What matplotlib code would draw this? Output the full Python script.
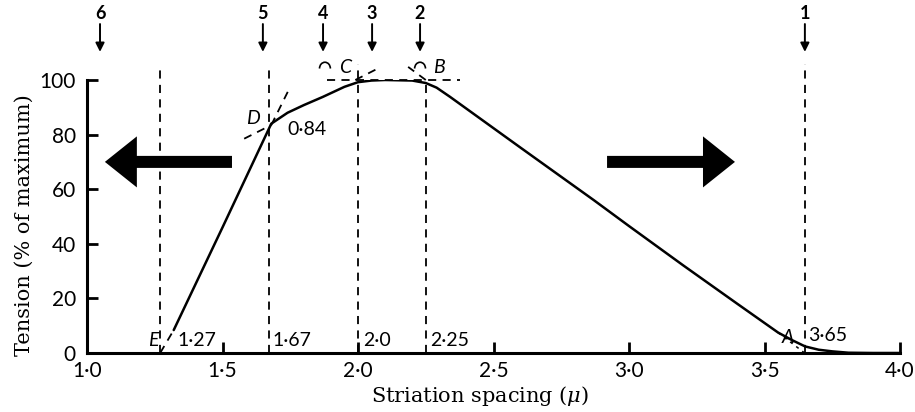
import matplotlib
matplotlib.use("Agg")
import matplotlib.pyplot as plt
from matplotlib.patches import Arc, FancyArrow

plt.rcParams['mathtext.fontset'] = 'dejavuserif'
plt.rcParams['font.family'] = ['Lato', 'DejaVu Sans']

# length-tension curve
spacing = [1.32, 1.50, 1.68, 1.74, 1.80, 1.87, 1.95, 2.00, 2.05, 2.10, 2.20,
           2.25, 2.29, 2.34, 2.60, 2.87, 3.00, 3.20, 3.40, 3.50, 3.55, 3.60, 3.65,
           3.70, 3.75, 3.81, 3.90, 4.00]
tension = [8.4, 46, 84, 88, 90.8, 93.8, 97.5, 99.2, 99.8, 100, 99.8,
           98.9, 97.2, 93.8, 75.2, 56, 46.5, 32.1, 18, 11, 7.5, 4.8, 2.4,
           1.2, 0.6, 0.1, 0, 0]

# dashed verticals: (x, top)
vlines_x = [1.27, 1.67, 2.0, 2.25, 3.65]
vlines_top = [105.5, 105.5, 106, 99, 106]
vlabels = ["1·27", "1·67", "2·0", "2·25", "3·65"]
vlabel_x = [1.335, 1.686, 2.02, 2.266, 3.66]
vlabel_y = [4.5, 4.5, 4.5, 4.5, 6.5]

# numbered arrows along the top
top_num = ["6", "5", "4", "3", "2", "1"]
top_x = [1.048, 1.649, 1.871, 2.052, 2.229, 3.649]

# lettered points
letters = ["E", "D", "C", "B", "A"]
letter_x = [1.245, 1.613, 1.952, 2.30, 3.585]
letter_y = [4.5, 86, 104.4, 104.4, 5.5]

xticks = [1.0, 1.5, 2.0, 2.5, 3.0, 3.5, 4.0]
xticklabels = ["1·0", "1·5", "2·0", "2·5", "3·0", "3·5", "4·0"]
yticks = [0, 20, 40, 60, 80, 100]

fig = plt.figure(figsize=(9.15, 4.12), dpi=100)
ax = fig.add_axes([87 / 915, 59 / 412, 813 / 915, 273 / 412])
ax.set_xlim(1.0, 4.0)
ax.set_ylim(0, 100)

ax.plot(spacing, tension, color="black", lw=1.8, solid_capstyle="round", zorder=3)

dash = dict(color="black", lw=1.3, dashes=(4.5, 3.5))
for x, top in zip(vlines_x, vlines_top):
    ax.plot([x, x], [0, top], clip_on=False, **dash)
ax.plot([1.886, 2.376], [100, 100], **dash, clip_on=False)
# tangent extensions
ax.plot([1.27, 1.32], [0, 8.4], **dash)
ax.plot([3.55, 3.648], [7.5, 0], color="black", lw=1.1, dashes=(2, 3))
ax.plot([1.68, 1.745], [83.5, 96.5], **dash, clip_on=False)
ax.plot([1.58, 1.68], [78.5, 83.5], **dash)
ax.plot([1.99, 2.075], [100, 104.3], **dash, clip_on=False)
ax.plot([2.25, 2.185], [100, 104.8], **dash, clip_on=False)

for s, x, y in zip(vlabels, vlabel_x, vlabel_y):
    ax.text(x, y, s, fontsize=14, ha="left", va="center")
ax.text(1.738, 81.7, "0·84", fontsize=14, ha="left", va="center")
for s, x, y in zip(letters, letter_x, letter_y):
    ax.text(x, y, s, fontsize=14, style="italic", ha="center", va="center", clip_on=False)

for s, x in zip(top_num, top_x):
    ax.text(x, 124.5, s, fontsize=13, fontweight="bold", ha="center", va="center", clip_on=False)
    ax.annotate("", xy=(x, 110.3), xytext=(x, 120.5), annotation_clip=False,
                arrowprops=dict(arrowstyle="-|>", color="black", lw=1.4,
                                mutation_scale=13, shrinkA=0, shrinkB=0))

for x in [1.878, 2.229]:
    ax.add_patch(Arc((x, 104.2), 0.04, 4.6, theta1=0, theta2=180,
                     color="black", lw=1.2, clip_on=False))

# big direction arrows
ax.add_patch(FancyArrow(1.535, 70, -0.469, 0, width=4.4, head_width=18.7,
                        head_length=0.118, length_includes_head=True,
                        color="black", lw=0))
ax.add_patch(FancyArrow(2.919, 70, 0.472, 0, width=4.4, head_width=18.7,
                        head_length=0.118, length_includes_head=True,
                        color="black", lw=0))

for side in ["top", "right"]:
    ax.spines[side].set_visible(False)
for side in ["left", "bottom"]:
    ax.spines[side].set_linewidth(2.2)
ax.set_xticks(xticks)
ax.set_xticklabels(xticklabels)
ax.set_yticks(yticks)
ax.tick_params(direction="in", length=8, width=2, labelsize=15, pad=6)
ax.tick_params(axis="y", pad=8)

ax.set_xlabel(r"Striation spacing ($\mu$)", fontsize=15, family="DejaVu Serif")
ax.xaxis.set_label_coords(0.483, -0.115)
ax.set_ylabel("Tension (% of maximum)", fontsize=15, family="DejaVu Serif")
ax.yaxis.set_label_coords(-0.066, 0.47)

fig.savefig("out.png", dpi=100)
